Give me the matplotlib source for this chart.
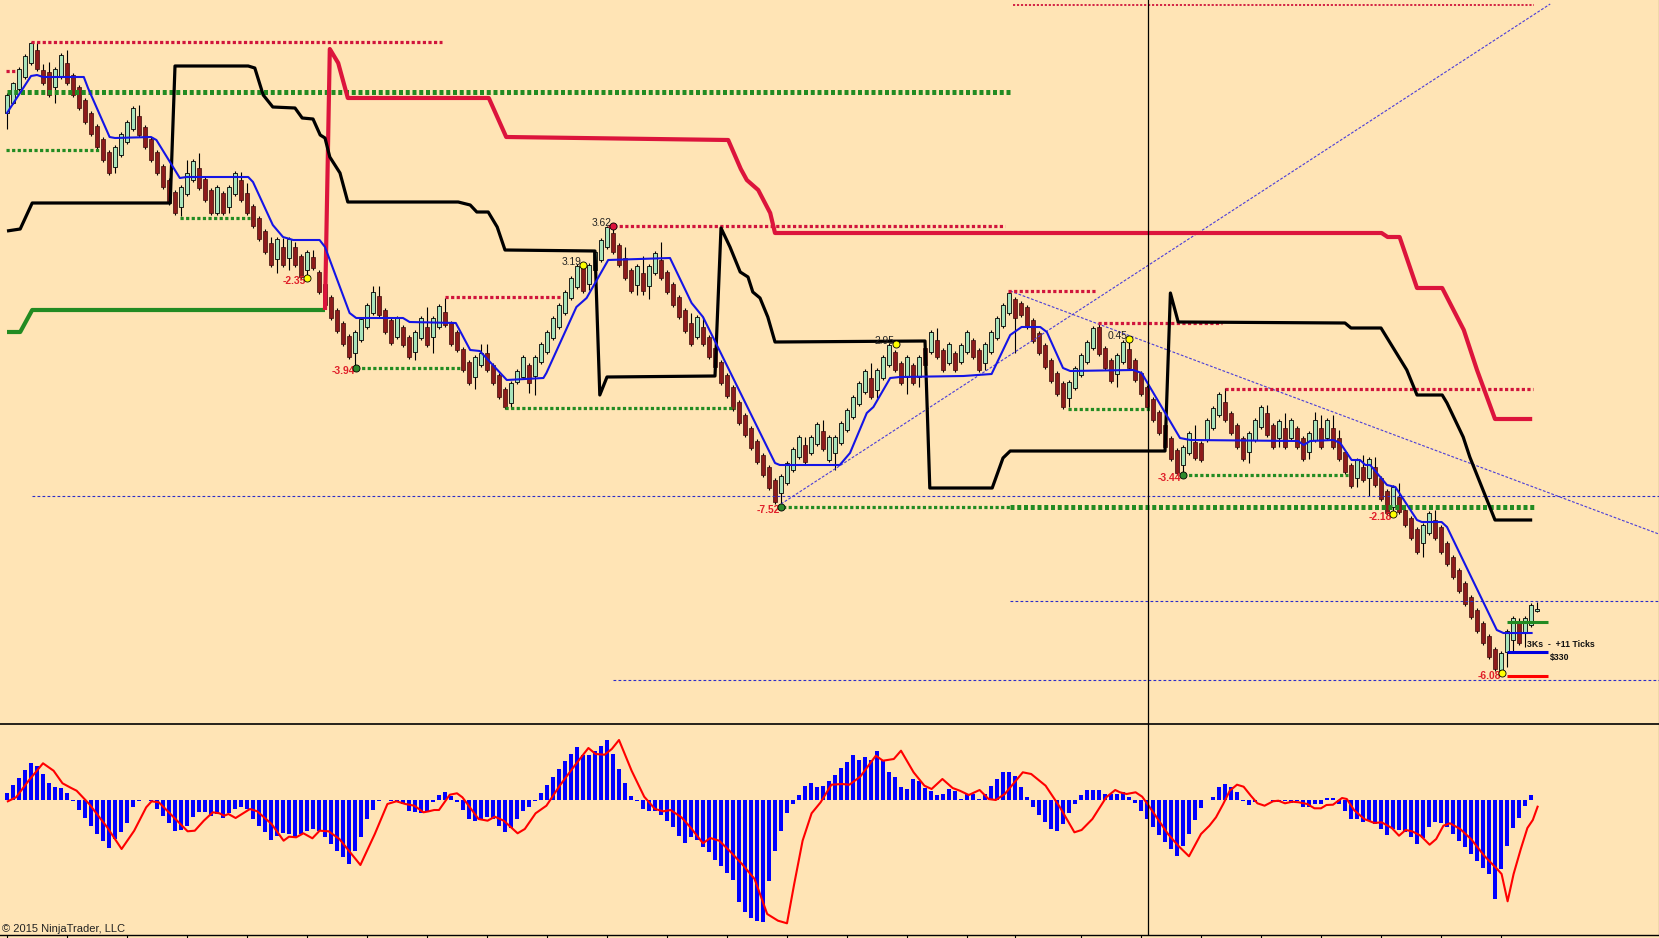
import matplotlib
matplotlib.use("Agg")
import matplotlib.pyplot as plt
import numpy as np

# ---------------- price data (one candle per bar) ----------------
OPEN = [611, 621, 635, 647, 661, 674, 654, 652, 637, 647,
        661, 649, 637, 624, 611, 598, 585, 572, 557, 569,
        582, 595, 608, 597, 585, 572, 558, 544, 532, 517,
        530, 544, 556, 545, 534, 511, 531, 517, 530, 544,
        531, 518, 506, 493, 481, 465, 477, 466, 477, 468,
        454, 467, 452, 440, 427, 414, 401, 388, 371, 384,
        397, 411, 428, 414, 404, 387, 397, 387, 372, 386,
        397, 387, 397, 412, 401, 392, 375, 362, 347, 359,
        371, 359, 349, 335, 321, 342, 347, 359, 348, 362,
        372, 386, 397, 411, 426, 437, 457, 440, 454, 464,
        477, 491, 479, 466, 454, 439, 451, 438, 451, 464,
        452, 440, 427, 414, 401, 387, 397, 387, 376, 362,
        349, 337, 322, 309, 296, 283, 269, 257, 244, 231,
        241, 254, 267, 279, 271, 280, 293, 264, 271, 281,
        294, 307, 320, 332, 346, 334, 346, 359, 372, 361,
        347, 359, 347, 376, 372, 384, 374, 361, 371, 362,
        372, 384, 374, 361, 372, 386, 398, 411, 425, 421,
        417, 404, 391, 379, 364, 351, 341, 326, 336, 349,
        362, 376, 397, 376, 364, 350, 362, 375, 364, 351,
        337, 325, 312, 299, 286, 274, 259, 271, 282, 281,
        284, 296, 309, 322, 311, 299, 286, 272, 284, 297,
        311, 299, 286, 296, 286, 296, 286, 272, 284, 296,
        286, 296, 286, 272, 259, 246, 257, 246, 257, 246,
        233, 217, 227, 214, 206, 195, 181, 191, 204, 197,
        181, 167, 154, 141, 127, 114, 101, 88, 75, 54,
        72, 84, 101, 91, 99, 113]

CLOSE = [629, 641, 655, 668, 681, 655, 641, 629, 655, 669,
         641, 629, 616, 602, 590, 577, 564, 551, 577, 590,
         602, 616, 589, 577, 564, 551, 537, 521, 511, 537,
         551, 563, 536, 524, 511, 537, 511, 537, 551, 524,
         511, 498, 485, 472, 459, 485, 459, 485, 459, 447,
         472, 456, 432, 419, 406, 393, 380, 367, 392, 405,
         419, 432, 409, 392, 381, 406, 379, 367, 392, 406,
         379, 406, 418, 399, 380, 374, 354, 341, 367, 371,
         354, 341, 327, 317, 341, 353, 367, 341, 367, 380,
         392, 406, 419, 432, 446, 458, 433, 459, 472, 484,
         497, 472, 459, 446, 433, 458, 433, 458, 471, 446,
         432, 419, 407, 393, 380, 407, 380, 367, 357, 341,
         328, 315, 301, 289, 276, 262, 249, 236, 222, 248,
         261, 275, 287, 262, 287, 300, 275, 287, 287, 301,
         314, 327, 341, 353, 327, 354, 367, 379, 354, 341,
         367, 341, 367, 359, 392, 367, 354, 380, 354, 379,
         392, 367, 354, 380, 392, 406, 419, 431, 406, 409,
         397, 383, 371, 357, 343, 330, 317, 342, 356, 369,
         382, 396, 370, 356, 343, 369, 382, 356, 344, 330,
         317, 304, 291, 277, 265, 251, 277, 291, 266, 264,
         304, 316, 330, 304, 291, 277, 265, 291, 304, 317,
         289, 277, 303, 277, 304, 277, 265, 291, 304, 277,
         304, 277, 265, 252, 238, 264, 244, 265, 239, 225,
         211, 237, 212, 199, 186, 172, 199, 211, 186, 172,
         160, 147, 133, 120, 107, 93, 81, 67, 55, 71,
         93, 106, 81, 106, 119, 115]

HIGH = [631, 642, 657, 670, 682, 682, 660, 662, 657, 671,
        674, 651, 639, 626, 613, 600, 587, 574, 579, 592,
        604, 618, 619, 599, 587, 574, 560, 546, 534, 539,
        564, 565, 571, 547, 536, 539, 533, 539, 553, 552,
        541, 520, 508, 495, 487, 487, 486, 487, 482, 470,
        474, 474, 454, 442, 429, 416, 403, 390, 394, 407,
        421, 438, 438, 416, 406, 408, 399, 389, 394, 408,
        417, 408, 420, 426, 403, 394, 377, 364, 369, 380,
        380, 361, 351, 337, 343, 355, 369, 361, 369, 382,
        394, 408, 421, 434, 448, 460, 459, 461, 474, 486,
        498, 498, 481, 477, 456, 460, 468, 460, 473, 482,
        454, 442, 429, 416, 411, 409, 407, 389, 378, 364,
        351, 339, 324, 311, 298, 285, 271, 259, 246, 250,
        263, 277, 289, 287, 289, 302, 304, 289, 289, 303,
        316, 329, 343, 355, 361, 356, 369, 381, 374, 363,
        369, 361, 369, 378, 394, 396, 376, 382, 373, 381,
        394, 386, 376, 382, 394, 408, 421, 433, 427, 423,
        419, 406, 393, 381, 366, 353, 343, 344, 358, 371,
        384, 398, 401, 378, 366, 371, 384, 385, 366, 353,
        339, 327, 314, 301, 288, 276, 279, 293, 299, 283,
        306, 318, 332, 336, 313, 301, 288, 293, 306, 319,
        319, 301, 305, 311, 306, 298, 288, 293, 312, 309,
        306, 309, 294, 274, 261, 266, 269, 267, 267, 248,
        235, 239, 241, 216, 208, 197, 201, 213, 214, 199,
        183, 169, 156, 143, 129, 116, 103, 90, 77, 73,
        95, 108, 106, 108, 121, 122]

LOW = [595, 620, 633, 645, 659, 653, 639, 627, 621, 645,
       639, 627, 614, 600, 588, 575, 562, 549, 551, 567,
       580, 593, 587, 575, 562, 549, 535, 519, 509, 508,
       528, 542, 534, 522, 509, 509, 509, 511, 528, 522,
       509, 496, 483, 470, 457, 451, 457, 454, 457, 445,
       446, 454, 430, 417, 404, 391, 378, 365, 356, 382,
       395, 409, 407, 390, 379, 385, 377, 365, 364, 384,
       377, 371, 395, 397, 378, 372, 352, 339, 335, 357,
       352, 339, 325, 315, 316, 340, 345, 331, 329, 360,
       370, 384, 395, 409, 424, 435, 431, 434, 452, 462,
       475, 470, 457, 444, 431, 429, 429, 425, 449, 444,
       430, 417, 405, 391, 378, 385, 378, 365, 355, 339,
       326, 313, 299, 287, 274, 260, 247, 234, 220, 216,
       239, 252, 265, 260, 269, 278, 273, 262, 254, 279,
       292, 305, 318, 330, 325, 326, 344, 357, 352, 339,
       330, 339, 337, 357, 370, 365, 352, 359, 352, 360,
       370, 365, 352, 354, 370, 384, 396, 409, 371, 407,
       395, 381, 369, 355, 341, 328, 315, 317, 334, 347,
       360, 374, 368, 354, 341, 337, 360, 354, 342, 328,
       315, 302, 289, 275, 263, 249, 248, 269, 264, 262,
       282, 294, 307, 302, 289, 275, 263, 261, 282, 295,
       287, 275, 277, 275, 284, 275, 263, 265, 282, 275,
       284, 275, 263, 250, 236, 237, 242, 228, 237, 223,
       209, 210, 210, 197, 184, 170, 167, 189, 184, 170,
       158, 145, 131, 118, 105, 91, 79, 65, 53, 51,
       57, 72, 79, 77, 97, 112]

# ---------------- indicator lines (vertices: bar, price) ----------------
BLUE_X = [0, 4, 5, 6, 12.8, 13.5, 17.1, 18, 24, 24.9, 28.8, 29.9, 40.2, 41, 44.3, 46, 47.7,
          52.1, 53, 57.1, 58.2, 66, 67.1, 74.8, 77.2, 78.8, 83.3, 89.4, 89.9, 94.9, 96.6,
          100.2, 110.5, 114.1, 116, 128, 128.8, 138.8, 140.5, 143.3, 144.4, 147.2, 148.8,
          159.4, 164.1, 167.2, 169.1, 172.2, 173.3, 176, 177.2, 187.7, 189.1, 195.5, 197.2,
          215.2, 216.1, 217.2, 221.1, 222.2, 224.1, 225.5, 226.4, 227.2, 230, 231.4, 235,
          235.8, 239.1, 240, 248.3, 249.4, 254.1]
BLUE_Y = [611, 648, 649, 647, 647, 636, 587, 586, 587, 584, 546, 547, 547, 542, 499, 487, 484,
          484, 477, 411, 406, 406, 402, 401, 374, 373, 344, 346, 351, 417, 426,
          464, 466, 421, 407, 261, 259, 259, 271, 311, 317, 346, 347,
          348, 350, 389, 397, 397, 392, 356, 353, 354, 351, 286, 284,
          283, 279, 283, 284, 281, 264, 264, 259, 259, 239, 237, 204,
          202, 202, 197, 94, 91, 91]

BLACK_X = [0, 2.2, 4.2, 27.2, 28, 40.2, 41.3, 42.7, 44.3, 48, 49.2, 51, 52.2, 53, 53.8, 55.5,
           56.8, 75.2, 77.2, 78.3, 80.2, 81.7, 83, 98, 98.8, 100, 118, 119, 120.5, 122.2,
           123.5, 124.3, 125.5, 126.8, 128, 153, 153.8, 164.2, 166, 167.2, 193, 193.9, 195.2,
           223, 224, 229, 233.3, 235, 239.2, 240, 242.7, 243.8, 248, 254.2]
BLACK_Y = [493, 495, 521, 521, 658, 658, 656, 629, 617, 616, 606, 605, 589, 586, 567, 551,
           522, 522, 519, 512, 512, 497, 474, 473, 329, 347, 348, 496, 477, 452,
           447, 432, 426, 407, 382, 383, 236, 236, 266, 273, 273, 431, 402,
           401, 396, 396, 354, 329, 329, 321, 287, 267, 204, 204]

STOP_RED_X = [53, 53.8, 55.2, 56.8, 80.3, 83.2, 120.2, 122.3, 123.3, 125.2, 127.2, 128, 229.1,
              230.1, 232.1, 235, 239.2, 242.8, 245, 248, 254.2]
STOP_RED_Y = [414, 675, 661, 626, 626, 587, 584, 555, 544, 534, 511, 491, 491,
              487, 487, 436, 436, 394, 354, 305, 305]
STOP_GREEN_X = [0, 2.2, 4.2, 53]
STOP_GREEN_Y = [392, 392, 414, 414]

# ---------------- levels ----------------
RES_FROM = [-0.2, 4.0, 73.0, 100.2, 166.8, 181.8, 203.0]
RES_TO = [1.3, 72.5, 92.5, 166.3, 181.7, 202.5, 254.3]
RES_PRICE = [653, 682, 427, 498, 433, 401, 335]
SUP_FROM = [-0.2, 28.8, 58.2, 83.0, 128.3, 176.8, 196.0]
SUP_TO = [15.3, 40.5, 75.5, 121.3, 167.2, 190.5, 223.5]
SUP_PRICE = [574, 506, 356, 316, 217, 315, 249]
KEY_FROM = [0, 167.2]
KEY_TO = [167.2, 254.5]
KEY_PRICE = [632, 217]
TOP_FROM, TOP_TO, TOP_PRICE = 167.7, 254.5, 719
HL_FROM = [4.2, 167.2, 101.0]
HL_PRICE = [228, 123, 44]
TREND_X0 = [129, 167.2]
TREND_P0 = [220, 433]
TREND_X1 = [257.2, 275.3]
TREND_P1 = [720, 190]

# swing labels
LBL_BAR = [50, 58.2, 96, 101, 129, 148.2, 187, 196, 231, 249.2]
LBL_PRICE = [446, 356, 459, 498, 217, 380, 385, 249, 210, 51]
LBL_TEXT = ["-2.35", "-3.94", "3.19", "3.62", "-7.52", "2.95", "0.45", "-3.44", "-2.18", "-6.08"]
LBL_DOT = ["#FFFF00", "#2E8B2E", "#FFFF00", "#DC143C", "#2E8B2E", "#FFFF00", "#FFFF00",
           "#2E8B2E", "#FFFF00", "#FFFF00"]

# trade
TRADE_FROM, TRADE_TO = 250, 256.8
TRADE_TARGET, TRADE_ENTRY, TRADE_STOP = 102, 72, 48
TRADE_TEXT = "3Ks  -  +11 Ticks"
TRADE_PNL = "$330"
CURSOR_BAR = 190.2

# ---------------- oscillator ----------------
HIST = [7, 15, 22, 30, 37, 34, 26, 17, 13, 12,
        7, -1, -10, -18, -26, -34, -41, -48, -39, -32,
        -23, -7, -1, 0, -1, -9, -16, -23, -31, -30,
        -26, -17, -12, -12, -16, -14, -18, -13, -9, -7,
        -9, -19, -26, -32, -40, -36, -33, -34, -37, -34,
        -31, -29, -31, -37, -44, -51, -57, -64, -51, -37,
        -19, -10, -1, 0, -1, -2, -4, -11, -12, -13,
        -11, -2, 5, 8, 4, -2, -10, -19, -21, -19,
        -17, -19, -26, -32, -28, -19, -11, -7, -1, 7,
        15, 23, 31, 39, 46, 53, 45, 45, 49, 54,
        60, 46, 31, 17, 4, -1, -9, -11, -11, -15,
        -21, -27, -36, -43, -37, -40, -47, -52, -60, -66,
        -73, -80, -102, -112, -118, -121, -122, -81, -51, -31,
        -13, -4, 5, 14, 17, 13, 14, 19, 25, 32,
        38, 45, 40, 43, 40, 49, 40, 28, 23, 13,
        11, 21, 19, 12, 9, 5, 6, 11, 9, 1,
        6, 6, 1, 6, 14, 21, 28, 28, 24, 13,
        3, -7, -15, -22, -29, -31, -24, -13, -4, 5,
        10, 10, 10, 6, 6, 6, 8, 3, -3, -11,
        -19, -27, -35, -42, -49, -56, -46, -34, -20, -8,
        0, 3, 13, 16, 13, 8, -1, -5, -2, 0,
        0, -1, -2, -1, -3, -1, -7, -7, -4, -4,
        2, 2, -4, -11, -19, -19, -22, -21, -24, -29,
        -35, -29, -30, -32, -37, -44, -38, -27, -22, -23,
        -27, -34, -41, -47, -54, -61, -68, -74, -99, -69,
        -46, -28, -18, -6, 5, np.nan]

SIG_X = [0.14, 1.51, 3.6, 6.0, 7.76, 9.25, 10.7, 11.6, 13.7, 16.7, 19.1, 21.2, 23.2, 24.1, 25.3,
         26.8, 30.1, 31.3, 32.8, 34.3, 35.4, 36.2, 36.9, 38.1, 40.5, 41.7, 44.1, 46.1, 47.0,
         48.2, 49.4, 50.9, 52.1, 53.6, 55.4, 58.9, 61.3, 63.4, 64.9, 66.4, 67.9, 69.4, 70.3,
         71.2, 72.0, 73.8, 75.0, 75.9, 78.6, 80.1, 81.3, 82.8, 85.1, 86.3, 88.1, 89.9,
         92.2, 94.6, 96.9, 98.1, 99.6, 100.8, 102.0, 104.1, 106.2, 108.0, 109.4, 110.6, 112.4,
         113.9, 116.0, 117.2, 118.7, 120.4, 122.5, 124.6, 125.5, 126.7, 128.5, 130.0, 131.2,
         132.6, 134.1, 135.6, 137.4, 139.2, 140.4, 142.2, 144.8, 146.0, 147.8, 149.0, 151.1,
         152.9, 154.1, 155.9, 157.6, 158.8, 160.3, 162.1, 163.6, 164.8, 166.3, 169.3, 170.7,
         173.1, 175.5, 177.9, 179.1, 180.9, 183.2, 184.7,
         185.5, 186.6, 188.1, 189.2, 190.4, 191.8, 193.5, 195.2, 197.0, 199.0, 200.4, 201.5,
         202.7, 203.8, 205.0, 206.1, 207.3, 208.4, 209.6, 211.0, 211.9, 213.0, 214.2, 215.3,
         216.7, 217.9, 219.0, 219.9, 221.0, 222.5, 223.3, 224.5, 226.2, 227.9, 229.1, 230.8,
         232.0, 233.1, 234.2, 235.6, 237.1, 238.2, 239.4, 240.5, 242.2, 244.0, 246.2, 248.5,
         249.1, 250.1, 251.1, 252.3, 253.4, 254.3, 255.1]
SIG_Y = [-1.3, 2.7, 19.3, 36.7, 29.3, 16.7, 12, 9.3, -4, -27.3, -49, -30.7, -7.3, -1.3, -2.3,
         -11.3, -31.3, -30.7, -20.7, -12.3, -13.3, -15.7, -14, -18, -9, -11.3, -24, -40.7, -36.7,
         -37.3, -33.3, -38.3, -30.7, -31.3, -39, -65, -34, -4, -1.3, -4, -5.7, -12.3, -11.3,
         -10, -10, 5.3, 6.7, 2.7, -19, -20.7, -16.7, -20.7, -33.3, -29, -13.3, -5.7,
         15, 34.3, 52, 46, 45.3, 51, 60, 29.3, 3.3, -9, -11.3, -10, -17.3,
         -27.3, -43.3, -38, -40.7, -50.7, -64, -79, -94, -114, -120.7, -123.3, -84,
         -40.7, -13.3, -2.3, 15.3, 16, 15.3, 23.3, 44.3, 39.3, 41, 49.3, 27.7,
         14.3, 11, 21, 12, 9.3, 5, 10, 1, 0, 6, 27.7, 26,
         14.3, -7.3, -32.3, -30, -19, 2.7, 10,
         7.7, 6, 7.7, 3.3, -6.7, -19, -34, -45.7, -56.3, -34, -25.7, -17.3,
         -4, 9.3, 15.3, 13.3, 4.3, -3.3, -5.7, -1.3, -0.7, -3.3, -1.7, -2.3,
         -4, -8.3, -8.3, -5, -4.7, 2, 1, -10, -19, -23, -22.3, -28,
         -35.7, -30, -31.3, -35.7, -44.7, -39, -25.7, -23.3, -29, -39, -55.7, -70,
         -74, -101.3, -74, -49, -28, -20, -6.7]

TICK_BARS = [0, 10, 20, 30, 40, 50, 60, 70, 80, 90, 100, 110, 120, 130, 140, 150, 160, 168,
             179, 189, 199, 209, 219, 229, 239, 249]

# ---------------- drawing ----------------
BG = "#FFE4B5"
W, H = 1659, 938
fig = plt.figure(figsize=(W / 100, H / 100), dpi=100, facecolor=BG)
ax = fig.add_axes([0, 1 - 724 / H, 1, 724 / H], facecolor=BG)
ax2 = fig.add_axes([0, 3 / H, 1, 211 / H], facecolor=BG)

XMIN, XMAX = -7 / 6, (W - 7) / 6
for a in (ax, ax2):
    a.set_xlim(XMIN, XMAX)
    a.spines["top"].set_visible(False)
    a.spines["left"].set_visible(False)
    a.spines["right"].set_color("black")
    a.spines["bottom"].set_color("black")
    a.spines["right"].set_linewidth(0.8)
    a.spines["bottom"].set_linewidth(1.0)
    a.set_yticks([])
ax.spines["bottom"].set_visible(False)
ax2.spines["top"].set_visible(True)
ax2.spines["top"].set_color("black")
ax2.spines["top"].set_linewidth(1.2)
ax.set_ylim(0, 724)
ax2.set_ylim(-135, 76)
ax.set_xticks([])
ax2.set_xticks(TICK_BARS)
ax2.set_xticklabels([])
ax2.tick_params(axis="x", direction="out", length=3, width=0.8, color="black")

o = np.array(OPEN, float)
c = np.array(CLOSE, float)
hi = np.array(HIGH, float)
lo = np.array(LOW, float)
x = np.arange(len(o))
up = c >= o

# wicks and bodies
ax.vlines(x, lo, hi, color="black", lw=0.8, zorder=2)
ax.bar(x[up], (c - o)[up], bottom=o[up], width=0.55, color="#A8E4BC",
       edgecolor="black", linewidth=0.6, zorder=3)
ax.bar(x[~up], (c - o)[~up], bottom=o[~up], width=0.55, color="#8E1B1B",
       edgecolor="#3a0a0a", linewidth=0.5, zorder=3)

# dashed blue horizontal and trend lines
for f, p in zip(HL_FROM, HL_PRICE):
    ax.plot([f, XMAX], [p, p], color="#2B2BC8", lw=0.8, ls=(0, (2.5, 2)), zorder=4)
for x0, p0, x1, p1 in zip(TREND_X0, TREND_P0, TREND_X1, TREND_P1):
    ax.plot([x0, x1], [p0, p1], color="#4A3CD8", lw=0.8, ls=(0, (2.5, 1.5)), zorder=4)

# dotted levels
for f, t, p in zip(KEY_FROM, KEY_TO, KEY_PRICE):
    ax.plot([f, t], [p, p], color="#228B22", lw=3.6, ls=(0, (0.8, 0.55)),
            dash_capstyle="butt", zorder=5)
for f, t, p in zip(RES_FROM, RES_TO, RES_PRICE):
    ax.plot([f, t], [p, p], color="#D0143C", lw=2.3, ls=(0, (1, 0.75)),
            dash_capstyle="butt", zorder=5)
for f, t, p in zip(SUP_FROM, SUP_TO, SUP_PRICE):
    ax.plot([f, t], [p, p], color="#228B22", lw=2.3, ls=(0, (1, 0.75)),
            dash_capstyle="butt", zorder=5)
ax.plot([TOP_FROM, TOP_TO], [TOP_PRICE, TOP_PRICE], color="#D0143C", lw=1.3,
        ls=(0, (1.2, 1.0)), dash_capstyle="butt", zorder=5)

# stop / channel lines
ax.plot(STOP_GREEN_X, STOP_GREEN_Y, color="#228B22", lw=3.0, zorder=6, solid_capstyle="butt")
ax.plot(STOP_RED_X, STOP_RED_Y, color="#DC143C", lw=3.0, zorder=6, solid_capstyle="butt")
ax.plot(BLACK_X, BLACK_Y, color="black", lw=2.3, zorder=6, solid_capstyle="butt")
ax.plot(BLUE_X, BLUE_Y, color="#1414E6", lw=1.5, zorder=7)

# swing labels
for b, p, t, dc in zip(LBL_BAR, LBL_PRICE, LBL_TEXT, LBL_DOT):
    neg = t.startswith("-")
    ax.text(b - 0.25, p + (-3 if neg else 3), t, ha="right", va="center",
            fontsize=7.4, family="Liberation Sans", fontweight="bold" if neg else "normal",
            color="#E0202A" if neg else "#222222", zorder=9)
    ax.scatter([b], [p], s=26, color=dc, edgecolors="black", linewidths=0.6, zorder=10)

# trade markers
ax.plot([TRADE_FROM, TRADE_TO], [TRADE_TARGET] * 2, color="#228B22", lw=2.2, zorder=8,
        solid_capstyle="butt")
ax.plot([TRADE_FROM, TRADE_TO], [TRADE_ENTRY] * 2, color="#0000E0", lw=2.2, zorder=8,
        solid_capstyle="butt")
ax.plot([TRADE_FROM, TRADE_TO], [TRADE_STOP] * 2, color="#FF0000", lw=2.2, zorder=8,
        solid_capstyle="butt")
ax.text(253.4, 80, TRADE_TEXT, ha="left", va="center", fontsize=6.3,
        family="Liberation Sans", fontweight="bold", color="#111111", zorder=9)
ax.text(257.2, 67, TRADE_PNL, ha="left", va="center", fontsize=6.3,
        family="Liberation Sans", fontweight="bold", color="#111111", zorder=9)

# oscillator
hv = np.array(HIST, float)
ax2.bar(x, hv, width=0.72, color="#0000FF", zorder=3)
ax2.plot(SIG_X, SIG_Y, color="#FF0000", lw=1.5, zorder=4)

# cursor line
ax.axvline(CURSOR_BAR, color="black", lw=0.9, zorder=8)
ax2.axvline(CURSOR_BAR, color="black", lw=0.9, zorder=8)

fig.text(0.0015, 6 / H, "\u00a9 2015 NinjaTrader, LLC", fontsize=8, family="Liberation Sans",
         color="#222222", ha="left", va="baseline")

fig.savefig("out.png", dpi=100, facecolor=BG)
